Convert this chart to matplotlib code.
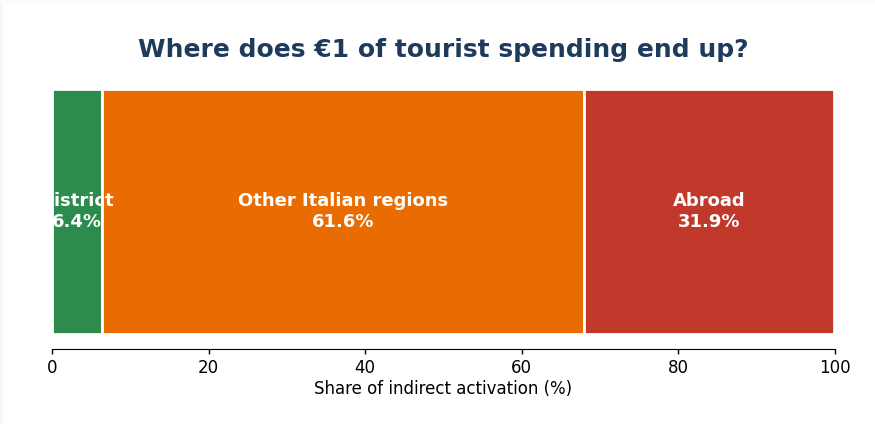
import matplotlib
matplotlib.use("Agg")
import matplotlib.pyplot as plt
from matplotlib.patches import Rectangle

plt.rcParams["font.family"] = ["DejaVu Sans"]

# Destination of indirect activation per euro of tourist spending
segments = ["District", "Other Italian regions", "Abroad"]
shares = [6.4, 61.6, 31.9]
colors = ["#2e8b4e", "#e86c00", "#c0392b"]
x_ticks = [0, 20, 40, 60, 80, 100]

W, H = 875, 424
fig = plt.figure(figsize=(W / 100, H / 100), dpi=100)
fig.patch.set_facecolor("white")

# soft card shadow along the top and left edges
for i, a in enumerate([0.035, 0.025, 0.018, 0.012, 0.008, 0.004, 0.002, 0.001]):
    fig.patches.append(Rectangle((i / W, 0), 1 / W, 1 - (i + 1) / H,
                                 transform=fig.transFigure, facecolor="black",
                                 alpha=a, edgecolor="none"))
    fig.patches.append(Rectangle((i / W, 1 - (i + 1) / H), 1, 1 / H,
                                 transform=fig.transFigure, facecolor="black",
                                 alpha=a * 0.6, edgecolor="none"))

ax = fig.add_axes([52 / W, 1 - 349 / H, (835 - 52) / W, (349 - 74) / H])

left = 0.0
for name, val, col in zip(segments, shares, colors):
    ax.barh(0, val, left=left, height=0.89, color=col, edgecolor="white",
            linewidth=2)
    ax.text(left + val / 2, 0.0, f"{name}\n{val:.1f}%", ha="center",
            va="center", color="white", fontsize=13, fontweight="bold")
    left += val

ax.set_xlim(0, 100)
ax.set_ylim(-0.5, 0.5)
ax.set_xticks(x_ticks)
ax.set_xticklabels([str(t) for t in x_ticks], fontsize=12)
ax.set_yticks([])
ax.tick_params(axis="x", length=3.5, width=1, colors="black")
for side in ["top", "right", "left"]:
    ax.spines[side].set_visible(False)
ax.set_xlabel("Share of indirect activation (%)", fontsize=12, labelpad=2)

fig.text(443.5 / W, 1 - 50 / H, "Where does €1 of tourist spending end up?",
         ha="center", va="center", fontsize=18, fontweight="bold",
         color="#1f3b5c")

fig.savefig("out.png", dpi=100)
